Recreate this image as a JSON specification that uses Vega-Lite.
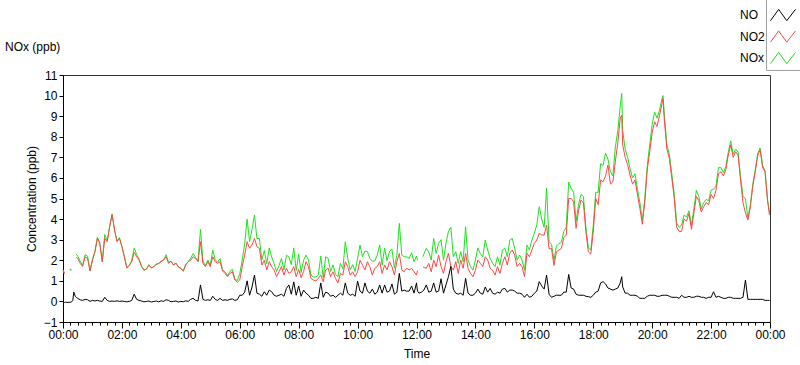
{
  "$schema": "https://vega.github.io/schema/vega-lite/v6.json",
  "autosize": {"type": "none"},
  "width": 707,
  "height": 247,
  "padding": {"left": 63, "top": 75, "right": 30, "bottom": 43},
  "background": "white",
  "title": {"text": "NOx (ppb)", "anchor": "start", "frame": "group", "dx": -58, "offset": -56, "fontSize": 12, "fontWeight": "normal", "font": "Liberation Sans", "color": "#000"},
  "data": {
    "values": [
      {"min":0,"no":-0.05,"no2":1.55,"nox":1.5},
      {"min":3,"no":-0.05,"no2":1.38,"nox":1.33},
      {"min":5,"no":-0.04,"no2":null,"nox":null},
      {"min":10,"no":-0.05,"no2":null,"nox":null},
      {"min":14,"no":-0.04,"no2":1.57,"nox":1.53},
      {"min":17,"no":-0.03,"no2":1.55,"nox":1.52},
      {"min":20,"no":0.05,"no2":null,"nox":null},
      {"min":22,"no":0.45,"no2":null,"nox":null},
      {"min":25,"no":0.25,"no2":null,"nox":null},
      {"min":27,"no":0.2,"no2":2.13,"nox":2.3},
      {"min":30,"no":0.15,"no2":2.09,"nox":2.2},
      {"min":35,"no":0.08,"no2":1.85,"nox":1.95},
      {"min":40,"no":0.05,"no2":1.7,"nox":1.75},
      {"min":45,"no":0.1,"no2":2.17,"nox":2.27},
      {"min":50,"no":0.08,"no2":2.1,"nox":2.2},
      {"min":55,"no":0.0,"no2":1.48,"nox":1.48},
      {"min":60,"no":0.05,"no2":2.0,"nox":2.05},
      {"min":65,"no":0.02,"no2":2.4,"nox":2.42},
      {"min":70,"no":0.05,"no2":3.06,"nox":3.12},
      {"min":75,"no":0.02,"no2":2.82,"nox":2.85},
      {"min":80,"no":0.0,"no2":1.93,"nox":1.93},
      {"min":85,"no":0.2,"no2":3.06,"nox":3.25},
      {"min":90,"no":0.05,"no2":2.9,"nox":2.95},
      {"min":95,"no":0.0,"no2":3.63,"nox":3.63},
      {"min":100,"no":0.02,"no2":4.22,"nox":4.25},
      {"min":105,"no":0.0,"no2":3.47,"nox":3.47},
      {"min":110,"no":0.03,"no2":2.9,"nox":2.93},
      {"min":115,"no":0.0,"no2":3.06,"nox":3.1},
      {"min":120,"no":0.02,"no2":2.66,"nox":2.68},
      {"min":125,"no":0.0,"no2":2.17,"nox":2.17},
      {"min":130,"no":-0.02,"no2":1.64,"nox":1.62},
      {"min":135,"no":0.0,"no2":1.74,"nox":1.74},
      {"min":140,"no":0.05,"no2":1.93,"nox":1.98},
      {"min":145,"no":0.35,"no2":2.38,"nox":2.6},
      {"min":150,"no":0.1,"no2":2.17,"nox":2.27},
      {"min":155,"no":0.05,"no2":2.01,"nox":2.06},
      {"min":160,"no":0.02,"no2":1.69,"nox":1.71},
      {"min":165,"no":-0.02,"no2":1.53,"nox":1.51},
      {"min":170,"no":0.0,"no2":1.57,"nox":1.57},
      {"min":175,"no":0.02,"no2":1.77,"nox":1.79},
      {"min":180,"no":-0.03,"no2":1.64,"nox":1.61},
      {"min":185,"no":0.0,"no2":1.69,"nox":1.69},
      {"min":190,"no":0.02,"no2":1.8,"nox":1.82},
      {"min":195,"no":-0.02,"no2":1.85,"nox":1.83},
      {"min":200,"no":0.03,"no2":1.93,"nox":1.96},
      {"min":205,"no":0.0,"no2":2.01,"nox":2.01},
      {"min":210,"no":0.08,"no2":2.17,"nox":2.27},
      {"min":215,"no":0.05,"no2":1.85,"nox":1.9},
      {"min":220,"no":-0.02,"no2":1.96,"nox":1.94},
      {"min":225,"no":0.0,"no2":1.77,"nox":1.77},
      {"min":230,"no":0.02,"no2":1.85,"nox":1.87},
      {"min":235,"no":-0.03,"no2":1.69,"nox":1.66},
      {"min":240,"no":0.0,"no2":1.61,"nox":1.61},
      {"min":245,"no":-0.02,"no2":1.48,"nox":1.46},
      {"min":250,"no":0.03,"no2":1.77,"nox":1.8},
      {"min":255,"no":0.0,"no2":1.93,"nox":1.93},
      {"min":260,"no":0.1,"no2":2.0,"nox":2.1},
      {"min":265,"no":0.15,"no2":2.17,"nox":2.32},
      {"min":270,"no":0.05,"no2":2.09,"nox":2.14},
      {"min":275,"no":0.02,"no2":1.93,"nox":1.95},
      {"min":280,"no":0.8,"no2":2.9,"nox":3.5},
      {"min":285,"no":0.1,"no2":1.85,"nox":1.95},
      {"min":290,"no":0.05,"no2":1.69,"nox":1.74},
      {"min":295,"no":0.08,"no2":1.93,"nox":2.01},
      {"min":300,"no":0.05,"no2":1.69,"nox":1.74},
      {"min":305,"no":0.25,"no2":2.17,"nox":2.5},
      {"min":310,"no":0.1,"no2":1.93,"nox":2.03},
      {"min":315,"no":0.05,"no2":1.85,"nox":1.9},
      {"min":320,"no":0.15,"no2":1.93,"nox":2.08},
      {"min":325,"no":0.05,"no2":1.48,"nox":1.53},
      {"min":330,"no":0.08,"no2":1.36,"nox":1.44},
      {"min":335,"no":0.05,"no2":1.2,"nox":1.25},
      {"min":340,"no":0.1,"no2":1.36,"nox":1.46},
      {"min":345,"no":0.12,"no2":1.44,"nox":1.56},
      {"min":350,"no":0.05,"no2":1.04,"nox":1.09},
      {"min":355,"no":0.08,"no2":0.93,"nox":1.01},
      {"min":360,"no":0.3,"no2":1.04,"nox":1.35},
      {"min":365,"no":0.3,"no2":1.69,"nox":2.0},
      {"min":370,"no":0.45,"no2":2.25,"nox":2.8},
      {"min":375,"no":1.0,"no2":2.9,"nox":4.0},
      {"min":380,"no":0.3,"no2":2.58,"nox":2.9},
      {"min":385,"no":0.7,"no2":2.74,"nox":3.5},
      {"min":390,"no":1.28,"no2":3.06,"nox":4.2},
      {"min":395,"no":0.4,"no2":2.66,"nox":3.05},
      {"min":400,"no":0.35,"no2":2.58,"nox":3.06},
      {"min":405,"no":0.25,"no2":1.77,"nox":2.02},
      {"min":410,"no":0.47,"no2":2.0,"nox":2.47},
      {"min":415,"no":0.3,"no2":1.53,"nox":1.83},
      {"min":420,"no":0.55,"no2":1.93,"nox":2.6},
      {"min":425,"no":0.47,"no2":1.69,"nox":2.16},
      {"min":430,"no":0.3,"no2":1.53,"nox":1.83},
      {"min":435,"no":0.25,"no2":1.2,"nox":1.45},
      {"min":440,"no":0.3,"no2":1.44,"nox":1.74},
      {"min":445,"no":0.35,"no2":1.69,"nox":2.09},
      {"min":450,"no":0.25,"no2":1.28,"nox":1.53},
      {"min":455,"no":0.63,"no2":1.61,"nox":2.24},
      {"min":460,"no":0.8,"no2":1.36,"nox":2.17},
      {"min":465,"no":0.35,"no2":1.44,"nox":1.79},
      {"min":470,"no":0.95,"no2":1.69,"nox":2.6},
      {"min":475,"no":0.3,"no2":1.2,"nox":1.5},
      {"min":480,"no":0.75,"no2":1.55,"nox":2.3},
      {"min":485,"no":0.25,"no2":1.15,"nox":1.4},
      {"min":490,"no":0.55,"no2":1.45,"nox":2.0},
      {"min":495,"no":0.4,"no2":1.93,"nox":2.25},
      {"min":500,"no":0.3,"no2":1.69,"nox":2.01},
      {"min":505,"no":0.15,"no2":1.12,"nox":1.28},
      {"min":510,"no":0.15,"no2":1.04,"nox":1.19},
      {"min":515,"no":0.2,"no2":0.99,"nox":1.19},
      {"min":520,"no":0.15,"no2":1.12,"nox":1.28},
      {"min":525,"no":0.9,"no2":1.28,"nox":2.2},
      {"min":530,"no":0.2,"no2":0.96,"nox":1.16},
      {"min":535,"no":0.45,"no2":1.53,"nox":2.17},
      {"min":540,"no":0.4,"no2":1.61,"nox":2.09},
      {"min":545,"no":0.25,"no2":1.2,"nox":1.45},
      {"min":550,"no":0.3,"no2":1.44,"nox":1.77},
      {"min":555,"no":0.2,"no2":1.12,"nox":1.32},
      {"min":560,"no":0.3,"no2":0.9,"nox":1.2},
      {"min":565,"no":0.4,"no2":1.36,"nox":1.85},
      {"min":570,"no":0.3,"no2":1.28,"nox":1.58},
      {"min":575,"no":0.9,"no2":1.93,"nox":2.9},
      {"min":580,"no":0.4,"no2":1.69,"nox":2.09},
      {"min":585,"no":0.3,"no2":1.28,"nox":1.53},
      {"min":590,"no":0.35,"no2":1.44,"nox":1.79},
      {"min":595,"no":0.25,"no2":1.2,"nox":1.45},
      {"min":600,"no":0.99,"no2":1.44,"nox":2.1},
      {"min":605,"no":0.5,"no2":2.0,"nox":2.74},
      {"min":610,"no":0.4,"no2":1.77,"nox":2.17},
      {"min":615,"no":0.9,"no2":1.53,"nox":2.45},
      {"min":620,"no":0.5,"no2":1.93,"nox":2.42},
      {"min":625,"no":0.4,"no2":1.69,"nox":2.09},
      {"min":630,"no":0.6,"no2":1.28,"nox":1.95},
      {"min":635,"no":0.35,"no2":1.61,"nox":1.96},
      {"min":640,"no":0.45,"no2":1.69,"nox":2.25},
      {"min":645,"no":0.8,"no2":1.93,"nox":2.74},
      {"min":650,"no":0.4,"no2":1.36,"nox":1.76},
      {"min":655,"no":0.8,"no2":1.77,"nox":2.6},
      {"min":660,"no":0.45,"no2":1.53,"nox":1.98},
      {"min":665,"no":0.5,"no2":1.93,"nox":2.42},
      {"min":670,"no":0.85,"no2":1.69,"nox":2.55},
      {"min":675,"no":0.35,"no2":1.28,"nox":1.63},
      {"min":680,"no":0.45,"no2":1.93,"nox":2.25},
      {"min":685,"no":1.36,"no2":2.33,"nox":3.79},
      {"min":690,"no":0.5,"no2":1.53,"nox":2.25},
      {"min":695,"no":0.55,"no2":1.44,"nox":2.17},
      {"min":700,"no":0.5,"no2":1.61,"nox":2.17},
      {"min":705,"no":0.5,"no2":1.53,"nox":2.09},
      {"min":710,"no":0.75,"no2":1.61,"nox":2.36},
      {"min":715,"no":0.4,"no2":1.44,"nox":1.93},
      {"min":720,"no":0.9,"no2":1.28,"nox":2.2},
      {"min":722,"no":0.5,"no2":1.5,"nox":2.0},
      {"min":725,"no":0.4,"no2":null,"nox":null},
      {"min":730,"no":0.45,"no2":null,"nox":null},
      {"min":733,"no":0.5,"no2":1.69,"nox":2.17},
      {"min":735,"no":0.55,"no2":1.65,"nox":2.3},
      {"min":740,"no":0.8,"no2":1.61,"nox":2.58},
      {"min":745,"no":0.45,"no2":1.85,"nox":2.4},
      {"min":750,"no":0.5,"no2":1.44,"nox":2.01},
      {"min":755,"no":0.9,"no2":2.01,"nox":3.06},
      {"min":760,"no":0.45,"no2":1.69,"nox":2.33},
      {"min":765,"no":0.5,"no2":2.25,"nox":2.82},
      {"min":770,"no":1.1,"no2":1.69,"nox":3.0},
      {"min":775,"no":0.4,"no2":1.36,"nox":2.0},
      {"min":780,"no":0.8,"no2":1.93,"nox":2.82},
      {"min":785,"no":1.2,"no2":2.34,"nox":3.4},
      {"min":790,"no":1.7,"no2":1.69,"nox":3.6},
      {"min":795,"no":0.6,"no2":1.52,"nox":2.17},
      {"min":800,"no":0.4,"no2":1.93,"nox":2.42},
      {"min":805,"no":0.35,"no2":1.36,"nox":1.85},
      {"min":810,"no":0.4,"no2":2.01,"nox":2.42},
      {"min":815,"no":0.3,"no2":1.61,"nox":1.93},
      {"min":820,"no":1.12,"no2":2.34,"nox":3.63},
      {"min":825,"no":0.4,"no2":1.61,"nox":2.01},
      {"min":830,"no":0.3,"no2":1.36,"nox":1.69},
      {"min":835,"no":0.3,"no2":1.2,"nox":1.52},
      {"min":840,"no":0.4,"no2":1.52,"nox":2.01},
      {"min":845,"no":0.6,"no2":2.01,"nox":2.6},
      {"min":850,"no":0.4,"no2":1.85,"nox":2.33},
      {"min":855,"no":0.35,"no2":1.69,"nox":2.17},
      {"min":860,"no":0.7,"no2":2.17,"nox":2.98},
      {"min":865,"no":0.45,"no2":2.01,"nox":2.5},
      {"min":870,"no":0.63,"no2":1.61,"nox":2.09},
      {"min":875,"no":0.4,"no2":1.52,"nox":1.85},
      {"min":880,"no":0.35,"no2":1.28,"nox":1.69},
      {"min":885,"no":0.45,"no2":1.69,"nox":2.17},
      {"min":890,"no":0.4,"no2":1.36,"nox":1.77},
      {"min":895,"no":0.6,"no2":1.85,"nox":2.5},
      {"min":900,"no":0.63,"no2":2.17,"nox":2.58},
      {"min":905,"no":0.45,"no2":1.77,"nox":2.17},
      {"min":910,"no":0.55,"no2":2.34,"nox":2.98},
      {"min":915,"no":0.55,"no2":2.5,"nox":3.06},
      {"min":920,"no":0.5,"no2":2.25,"nox":2.58},
      {"min":925,"no":0.4,"no2":1.69,"nox":2.01},
      {"min":930,"no":0.4,"no2":1.85,"nox":2.25},
      {"min":935,"no":0.35,"no2":1.69,"nox":2.01},
      {"min":940,"no":0.2,"no2":1.2,"nox":1.52},
      {"min":945,"no":0.35,"no2":2.34,"nox":2.74},
      {"min":950,"no":0.2,"no2":2.17,"nox":2.5},
      {"min":955,"no":0.25,"no2":2.5,"nox":2.98},
      {"min":960,"no":0.4,"no2":2.82,"nox":3.31},
      {"min":965,"no":0.5,"no2":2.98,"nox":3.71},
      {"min":970,"no":0.96,"no2":3.31,"nox":4.6},
      {"min":975,"no":0.75,"no2":3.23,"nox":4.0},
      {"min":980,"no":0.6,"no2":3.22,"nox":3.6},
      {"min":985,"no":1.28,"no2":3.71,"nox":5.49},
      {"min":990,"no":0.35,"no2":2.55,"nox":2.9},
      {"min":995,"no":0.2,"no2":2.57,"nox":2.77},
      {"min":1000,"no":0.25,"no2":1.75,"nox":2.0},
      {"min":1005,"no":0.3,"no2":2.41,"nox":2.7},
      {"min":1010,"no":0.3,"no2":2.5,"nox":2.8},
      {"min":1015,"no":0.3,"no2":2.57,"nox":2.87},
      {"min":1020,"no":0.45,"no2":3.1,"nox":3.4},
      {"min":1025,"no":0.45,"no2":3.22,"nox":3.6},
      {"min":1030,"no":1.31,"no2":5.0,"nox":5.8},
      {"min":1035,"no":0.65,"no2":5.0,"nox":5.5},
      {"min":1040,"no":0.6,"no2":4.84,"nox":5.3},
      {"min":1045,"no":0.35,"no2":3.55,"nox":3.9},
      {"min":1050,"no":0.3,"no2":4.4,"nox":4.7},
      {"min":1055,"no":0.3,"no2":4.92,"nox":5.2},
      {"min":1060,"no":0.3,"no2":4.8,"nox":5.1},
      {"min":1065,"no":0.25,"no2":3.4,"nox":3.6},
      {"min":1070,"no":0.23,"no2":2.41,"nox":2.6},
      {"min":1075,"no":0.2,"no2":2.3,"nox":2.5},
      {"min":1080,"no":0.3,"no2":3.38,"nox":3.7},
      {"min":1085,"no":0.45,"no2":5.0,"nox":5.3},
      {"min":1090,"no":0.5,"no2":4.7,"nox":5.3},
      {"min":1095,"no":0.9,"no2":5.9,"nox":6.7},
      {"min":1100,"no":0.96,"no2":5.81,"nox":6.6},
      {"min":1105,"no":0.85,"no2":6.1,"nox":7.2},
      {"min":1110,"no":0.65,"no2":6.62,"nox":6.9},
      {"min":1115,"no":0.6,"no2":5.7,"nox":6.3},
      {"min":1120,"no":0.55,"no2":5.81,"nox":6.1},
      {"min":1125,"no":0.6,"no2":6.8,"nox":7.5},
      {"min":1130,"no":0.65,"no2":7.7,"nox":8.3},
      {"min":1135,"no":0.9,"no2":8.9,"nox":9.5},
      {"min":1138,"no":1.2,"no2":9.05,"nox":10.1},
      {"min":1140,"no":0.7,"no2":7.6,"nox":8.3},
      {"min":1145,"no":0.4,"no2":7.0,"nox":7.4},
      {"min":1150,"no":0.4,"no2":6.65,"nox":7.0},
      {"min":1155,"no":0.3,"no2":6.14,"nox":6.45},
      {"min":1160,"no":0.3,"no2":5.7,"nox":6.0},
      {"min":1165,"no":0.3,"no2":5.9,"nox":6.2},
      {"min":1170,"no":0.25,"no2":5.2,"nox":5.45},
      {"min":1175,"no":0.15,"no2":4.52,"nox":4.8},
      {"min":1180,"no":0.15,"no2":3.75,"nox":3.95},
      {"min":1185,"no":0.15,"no2":4.84,"nox":5.0},
      {"min":1190,"no":0.25,"no2":6.4,"nox":6.6},
      {"min":1195,"no":0.3,"no2":7.27,"nox":7.6},
      {"min":1200,"no":0.3,"no2":8.2,"nox":8.6},
      {"min":1205,"no":0.3,"no2":8.73,"nox":9.2},
      {"min":1210,"no":0.25,"no2":8.5,"nox":8.9},
      {"min":1215,"no":0.25,"no2":9.05,"nox":9.3},
      {"min":1220,"no":0.3,"no2":9.6,"nox":9.85},
      {"min":1222,"no":0.3,"no2":9.86,"nox":10.0},
      {"min":1225,"no":0.3,"no2":8.73,"nox":9.0},
      {"min":1230,"no":0.3,"no2":7.4,"nox":7.6},
      {"min":1235,"no":0.25,"no2":6.95,"nox":7.15},
      {"min":1240,"no":0.2,"no2":6.0,"nox":6.2},
      {"min":1245,"no":0.2,"no2":5.0,"nox":5.2},
      {"min":1250,"no":0.2,"no2":3.6,"nox":3.8},
      {"min":1255,"no":0.15,"no2":3.4,"nox":3.6},
      {"min":1260,"no":0.3,"no2":3.4,"nox":3.7},
      {"min":1265,"no":0.2,"no2":4.0,"nox":4.2},
      {"min":1270,"no":0.2,"no2":3.9,"nox":4.1},
      {"min":1275,"no":0.25,"no2":4.27,"nox":4.4},
      {"min":1280,"no":0.2,"no2":3.5,"nox":3.7},
      {"min":1285,"no":0.2,"no2":4.3,"nox":4.5},
      {"min":1290,"no":0.25,"no2":5.1,"nox":5.4},
      {"min":1295,"no":0.25,"no2":4.9,"nox":5.1},
      {"min":1300,"no":0.2,"no2":4.35,"nox":4.5},
      {"min":1305,"no":0.2,"no2":4.6,"nox":4.8},
      {"min":1310,"no":0.15,"no2":4.8,"nox":4.95},
      {"min":1315,"no":0.2,"no2":4.7,"nox":4.9},
      {"min":1320,"no":0.2,"no2":5.2,"nox":5.4},
      {"min":1325,"no":0.47,"no2":5.0,"nox":5.45},
      {"min":1330,"no":0.2,"no2":5.4,"nox":5.6},
      {"min":1335,"no":0.25,"no2":6.2,"nox":6.5},
      {"min":1340,"no":0.2,"no2":6.3,"nox":6.5},
      {"min":1345,"no":0.15,"no2":6.1,"nox":6.25},
      {"min":1350,"no":0.15,"no2":6.4,"nox":6.55},
      {"min":1355,"no":0.2,"no2":7.1,"nox":7.25},
      {"min":1360,"no":0.2,"no2":7.6,"nox":7.8},
      {"min":1365,"no":0.15,"no2":7.0,"nox":7.15},
      {"min":1370,"no":0.15,"no2":7.27,"nox":7.4},
      {"min":1375,"no":0.15,"no2":7.1,"nox":7.25},
      {"min":1380,"no":0.15,"no2":5.9,"nox":6.05},
      {"min":1385,"no":0.2,"no2":4.8,"nox":5.1},
      {"min":1390,"no":1.04,"no2":4.3,"nox":5.0},
      {"min":1395,"no":0.1,"no2":3.95,"nox":4.05},
      {"min":1400,"no":0.1,"no2":4.6,"nox":4.7},
      {"min":1405,"no":0.1,"no2":5.6,"nox":5.7},
      {"min":1410,"no":0.1,"no2":6.3,"nox":6.4},
      {"min":1415,"no":0.1,"no2":7.1,"nox":7.2},
      {"min":1420,"no":0.1,"no2":7.35,"nox":7.45},
      {"min":1425,"no":0.1,"no2":6.5,"nox":6.6},
      {"min":1430,"no":0.05,"no2":6.3,"nox":6.35},
      {"min":1435,"no":0.05,"no2":4.9,"nox":4.95},
      {"min":1439,"no":0.05,"no2":4.2,"nox":4.3}
    ]
  },
  "encoding": {
    "x": {
      "field": "min", "type": "quantitative",
      "scale": {"domain": [0, 1440], "nice": false, "zero": false},
      "axis": {
        "title": "Time",
        "values": [0,15,30,45,60,75,90,105,120,135,150,165,180,195,210,225,240,255,270,285,300,315,330,345,360,375,390,405,420,435,450,465,480,495,510,525,540,555,570,585,600,615,630,645,660,675,690,705,720,735,750,765,780,795,810,825,840,855,870,885,900,915,930,945,960,975,990,1005,1020,1035,1050,1065,1080,1095,1110,1125,1140,1155,1170,1185,1200,1215,1230,1245,1260,1275,1290,1305,1320,1335,1350,1365,1380,1395,1410,1425,1440],
        "labelExpr": "datum.value % 120 == 0 ? ((floor(datum.value / 60) % 24) < 10 ? '0' : '') + (floor(datum.value / 60) % 24) + ':00' : ''",
        "tickSize": {"condition": {"test": "datum.value % 120 == 0", "value": 6}, "value": 3},
        "labelOverlap": false,
        "labelFlush": false,
        "labelPadding": 1,
        "labelFontSize": 12,
        "titlePadding": 8,
        "grid": false
      }
    }
  },
  "layer": [
    {
      "mark": {"type": "line", "strokeWidth": 1},
      "encoding": {
        "y": {
          "field": "nox", "type": "quantitative",
          "scale": {"domain": [-1, 11], "nice": false, "zero": false},
          "axis": {"title": "Concentration (ppb)", "values": [-1, 0, 1, 2, 3, 4, 5, 6, 7, 8, 9, 10, 11], "labelOverlap": false, "labelSeparation": 0, "labelFontSize": 12, "tickSize": 4, "labelPadding": 2, "titlePadding": 5, "grid": false}
        },
        "color": {"datum": "NOx"}
      }
    },
    {
      "mark": {"type": "line", "strokeWidth": 1},
      "encoding": {
        "y": {
          "field": "no2", "type": "quantitative",
          "scale": {"domain": [-1, 11], "nice": false, "zero": false},
          "axis": {"title": "Concentration (ppb)", "values": [-1, 0, 1, 2, 3, 4, 5, 6, 7, 8, 9, 10, 11], "labelOverlap": false, "labelSeparation": 0, "labelFontSize": 12, "tickSize": 4, "labelPadding": 2, "titlePadding": 5, "grid": false}
        },
        "color": {"datum": "NO2"}
      }
    },
    {
      "mark": {"type": "line", "strokeWidth": 1},
      "encoding": {
        "y": {
          "field": "no", "type": "quantitative",
          "scale": {"domain": [-1, 11], "nice": false, "zero": false},
          "axis": {"title": "Concentration (ppb)", "values": [-1, 0, 1, 2, 3, 4, 5, 6, 7, 8, 9, 10, 11], "labelOverlap": false, "labelSeparation": 0, "labelFontSize": 12, "tickSize": 4, "labelPadding": 2, "titlePadding": 5, "grid": false}
        },
        "color": {
          "datum": "NO",
          "type": "nominal",
          "scale": {"domain": ["NO", "NO2", "NOx"], "range": ["#000000", "#ff4646", "#1de21d"]},
          "legend": {
            "orient": "none", "legendX": 703, "legendY": -77,
            "title": null,
            "symbolType": "M-1,0.45L-0.35,-0.45L0.3,0.45L1,-0.45",
            "symbolSize": 625,
            "symbolStrokeWidth": 1,
            "labelAlign": "left",
            "labelOffset": -56,
            "labelFontSize": 12,
            "labelFont": "Liberation Sans",
            "labelColor": "#000",
            "rowPadding": 0.5,
            "padding": 4,
            "strokeColor": "#a0a0a0"
          }
        }
      }
    }
  ],
  "config": {
    "view": {"stroke": "#333", "strokeWidth": 1},
    "axis": {
      "domainColor": "#000", "tickColor": "#000",
      "labelFont": "Liberation Sans", "labelFontSize": 11.5, "labelColor": "#000",
      "titleFont": "Liberation Sans", "titleFontSize": 12, "titleFontWeight": "normal", "titleColor": "#000"
    },
    "axisY": {"labelOverlap": false}
  }
}
